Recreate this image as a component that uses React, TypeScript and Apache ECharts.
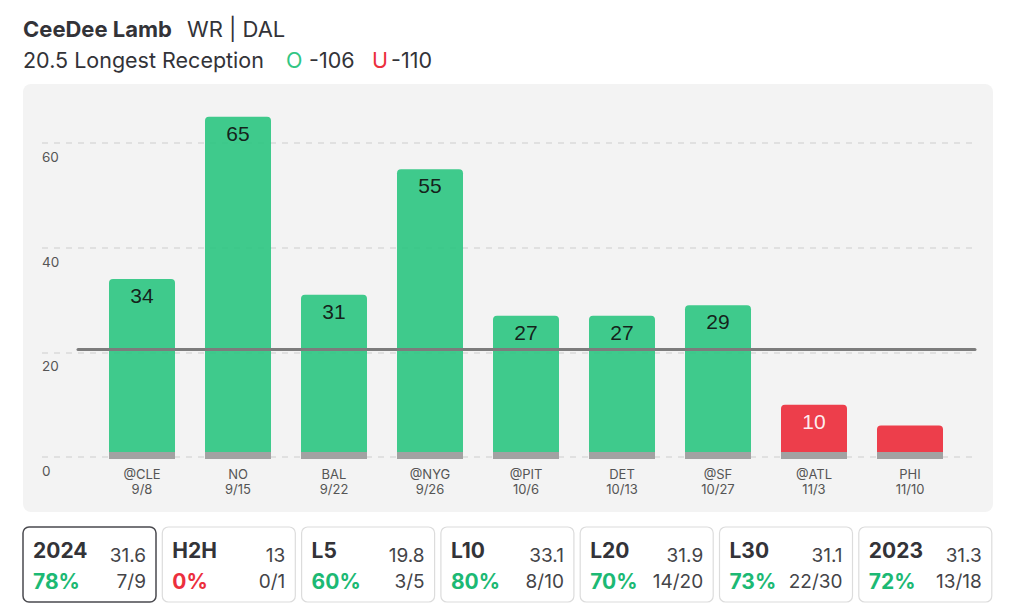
import React, { useEffect, useRef } from "react";
import * as echarts from "echarts";

const opponents = ["@CLE", "NO", "BAL", "@NYG", "@PIT", "DET", "@SF", "@ATL", "PHI"];
const dates = ["9/8", "9/15", "9/22", "9/26", "10/6", "10/13", "10/27", "11/3", "11/10"];
const longest = [34, 65, 31, 55, 27, 27, 29, 10, 6];
const propLine = 20.5;
const yMin = 0;
const yMax = 60;
const yInterval = 20;

const boxLabels = ["2024", "H2H", "L5", "L10", "L20", "L30", "2023"];
const boxAvgs = ["31.6", "13", "19.8", "33.1", "31.9", "31.1", "31.3"];
const boxPcts = ["78%", "0%", "60%", "80%", "70%", "73%", "72%"];
const boxFracs = ["7/9", "0/1", "3/5", "8/10", "14/20", "22/30", "13/18"];

const GREEN = "#30c683";
const RED = "#ec2f3d";
const TXT = "#333338";
const FONT = "Inter, 'Noto Sans', sans-serif";
const BAR_W = 66;

export default function App() {
  const ref = useRef<HTMLDivElement>(null);

  useEffect(() => {
    document.body.style.margin = "0";
    const chart = echarts.init(ref.current!, undefined, { renderer: "svg" });

    const barData = longest.map((v) => {
      const over = v > propLine;
      return {
        value: v,
        itemStyle: { color: over ? GREEN : RED },
        label: { color: over ? "#111" : "#fff", show: v >= 8 },
      };
    });

    const boxes: any[] = boxLabels.map((lab, i) => {
      const x = 23 + i * 139.3;
      const pctNum = parseFloat(boxPcts[i]);
      return {
        type: "group",
        x,
        y: 527,
        children: [
          {
            type: "rect",
            shape: { x: 0, y: 0, width: 133, height: 75, r: 6 },
            style: {
              fill: "#fff",
              stroke: i === 0 ? "#4a4a4f" : "#dcdcdc",
              lineWidth: i === 0 ? 1.5 : 1.2,
            },
          },
          {
            type: "text",
            x: 10,
            y: 23,
            style: { text: lab, fill: TXT, font: `bold 21px ${FONT}`, verticalAlign: "middle", align: "left" },
          },
          {
            type: "text",
            x: 123,
            y: 28,
            style: { text: boxAvgs[i], fill: "#444448", font: `19px ${FONT}`, verticalAlign: "middle", align: "right" },
          },
          {
            type: "text",
            x: 10,
            y: 54,
            style: {
              text: boxPcts[i],
              fill: pctNum > 50 ? "#1cb974" : RED,
              font: `bold 21px ${FONT}`,
              verticalAlign: "middle",
              align: "left",
            },
          },
          {
            type: "text",
            x: 123,
            y: 54,
            style: { text: boxFracs[i], fill: "#444448", font: `19px ${FONT}`, verticalAlign: "middle", align: "right" },
          },
        ],
      };
    });

    const option: any = {
      animation: false,
      backgroundColor: "#fff",
      graphic: [
        {
          type: "rect",
          z: -10,
          shape: { x: 23, y: 84, width: 970, height: 428, r: 8 },
          style: { fill: "#f3f3f3" },
        },
        {
          type: "text",
          x: 23,
          y: 29,
          style: { text: "CeeDee Lamb", fill: TXT, font: `bold 22px ${FONT}`, verticalAlign: "middle" },
        },
        {
          type: "text",
          x: 187,
          y: 29,
          style: { text: "WR | DAL", fill: TXT, font: `22px ${FONT}`, verticalAlign: "middle" },
        },
        {
          type: "text",
          x: 23,
          y: 60,
          style: { text: `${propLine} Longest Reception`, fill: TXT, font: `21.5px ${FONT}`, verticalAlign: "middle" },
        },
        {
          type: "text",
          x: 286,
          y: 60,
          style: { text: "O", fill: GREEN, font: `21.5px ${FONT}`, verticalAlign: "middle" },
        },
        {
          type: "text",
          x: 309,
          y: 60,
          style: { text: "-106", fill: TXT, font: `21.5px ${FONT}`, verticalAlign: "middle" },
        },
        {
          type: "text",
          x: 372,
          y: 60,
          style: { text: "U", fill: RED, font: `21.5px ${FONT}`, verticalAlign: "middle" },
        },
        {
          type: "text",
          x: 391,
          y: 60,
          style: { text: "-110", fill: TXT, font: `21.5px ${FONT}`, verticalAlign: "middle" },
        },
        ...boxes,
      ],
      grid: [
        { left: 42, width: 933, top: 143, height: 314 },
        { left: 94, width: 864, top: 143, height: 314 },
      ],
      xAxis: [
        { type: "value", gridIndex: 0, min: 0, max: 1, show: false },
        {
          type: "category",
          gridIndex: 1,
          data: opponents.map((o, i) => `${o}\n${dates[i]}`),
          axisLine: { show: false },
          axisTick: { show: false },
          splitLine: { show: false },
          axisLabel: {
            color: "#555",
            fontSize: 13,
            fontFamily: FONT,
            lineHeight: 15,
            margin: 9,
          },
        },
      ],
      yAxis: [
        {
          type: "value",
          gridIndex: 0,
          min: yMin,
          max: yMax,
          interval: yInterval,
          axisLine: { show: false },
          axisTick: { show: false },
          splitLine: { lineStyle: { color: "#dadada", width: 1.5, type: [6, 6] } },
          axisLabel: {
            inside: true,
            margin: 0,
            color: "#555",
            fontSize: 13.5,
            fontFamily: FONT,
            verticalAlign: "top",
            padding: [7, 0, 0, 0],
          },
        },
        { type: "value", gridIndex: 1, min: yMin, max: yMax, interval: yInterval, show: false },
      ],
      series: [
        {
          type: "line",
          xAxisIndex: 0,
          yAxisIndex: 0,
          data: [],
          z: 1,
          markLine: {
            silent: true,
            symbol: ["none", "none"],
            label: { show: false },
            lineStyle: { color: "#7c7c7c", width: 3, type: "solid", cap: "round" },
            data: [[{ x: 78, yAxis: propLine }, { x: 975, yAxis: propLine }]],
          },
        },
        {
          type: "bar",
          xAxisIndex: 1,
          yAxisIndex: 1,
          data: barData,
          barWidth: BAR_W,
          clip: false,
          z: 3,
          itemStyle: { borderRadius: [4, 4, 0, 0], opacity: 0.93 },
          label: {
            show: true,
            position: "insideTop",
            distance: 6,
            fontSize: 21,
            fontFamily: "'Liberation Sans', Arial, sans-serif",
          },
        },
        {
          type: "custom",
          xAxisIndex: 1,
          yAxisIndex: 1,
          z: 4,
          data: opponents.map((_, i) => i),
          renderItem: (params: any, api: any) => {
            const base = api.coord([api.value(0), 0]);
            return {
              type: "rect",
              shape: { x: base[0] - BAR_W / 2, y: base[1] - 5, width: BAR_W, height: 7 },
              style: { fill: "#a2a2a2" },
            };
          },
        },
      ],
    };

    chart.setOption(option);
    return () => chart.dispose();
  }, []);

  return <div ref={ref} style={{ width: 1024, height: 614 }} />;
}
